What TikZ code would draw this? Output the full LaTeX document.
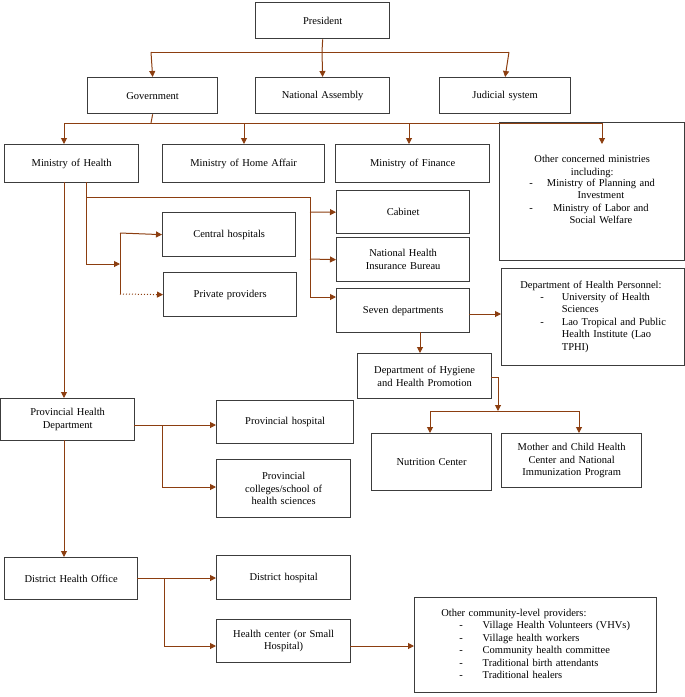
\documentclass[tikz,border=0pt]{standalone}
\usepackage{fontspec}
\setmainfont{Liberation Serif}
\usetikzlibrary{arrows.meta}
\definecolor{arr}{RGB}{140,62,16}
\definecolor{bx}{RGB}{60,60,60}
\begin{document}
\begin{tikzpicture}[x=1pt,y=-1pt,
 box/.style={draw=bx,line width=1.3pt,anchor=north west,inner sep=2pt,align=center,font=\fontsize{10.5}{12.5}\selectfont},
 ln/.style={draw=arr,line width=1pt},
 ar/.style={ln,-{Triangle[length=6pt,width=6pt]}}]
\useasboundingbox (0,0) rectangle (685,697);
\newcommand{\bx}[6]{\node[box,minimum width={#4-#2},minimum height={#5-#3},text width={#4-#2-8}] (#1) at (#2,#3) {#6};}
\bx{pres}{255}{2}{389}{38}{President}
\bx{gov}{87}{77}{217}{113}{Government}
\bx{na}{255}{77}{389}{113}{National Assembly}
\bx{jud}{439}{77}{570}{113}{Judicial system}
\bx{moh}{4}{144}{138}{182}{Ministry of Health}
\bx{mha}{162}{144}{324}{182}{Ministry of Home Affair}
\bx{mof}{335}{144}{489}{182}{Ministry of Finance}
\bx{oth}{499}{122}{684}{260}{Other concerned ministries\\including:\\[-1pt]
\begin{tabular}{@{}c@{\hspace{14pt}}c@{}}-&Ministry of Planning and\\&Investment\\-&Ministry of Labor and\\&Social Welfare\end{tabular}}
\bx{cab}{336}{190}{469}{233}{Cabinet}
\bx{nhib}{336}{237}{469}{281}{National Health\\Insurance Bureau}
\bx{sev}{336}{288}{469}{332}{Seven departments}
\bx{dhp}{501}{268}{684}{365}{\begin{tabular}{@{}l@{}}Department of Health Personnel:\\[-1pt]
\begin{tabular}{@{\hspace{20pt}}l@{\hspace{18pt}}l@{}}-&University of Health\\&Sciences\\-&Lao Tropical and Public\\&Health Institute (Lao\\&TPHI)\end{tabular}\end{tabular}}
\bx{hyg}{357}{353}{491}{398}{Department of Hygiene\\and Health Promotion}
\bx{nut}{371}{433}{491}{490}{Nutrition Center}
\bx{mch}{501}{433}{641}{487}{Mother and Child Health\\Center and National\\Immunization Program}
\bx{cen}{162}{212}{295}{256}{Central hospitals}
\bx{pri}{163}{272}{296}{316}{Private providers}
\bx{phd}{0}{398}{134}{440}{Provincial Health\\Department}
\bx{ph}{216}{400}{353}{443}{Provincial hospital}
\bx{pc}{216}{459}{350}{517}{Provincial\\colleges/school of\\health sciences}
\bx{dho}{4}{557}{137}{599}{District Health Office}
\bx{dh}{216}{555}{350}{599}{District hospital}
\bx{hc}{216}{619}{350}{662}{Health center (or Small\\Hospital)}
\bx{ocp}{414}{597}{656}{692}{\begin{tabular}{@{}l@{}}Other community-level providers:\\
\begin{tabular}{@{\hspace{18pt}}l@{\hspace{20pt}}l@{}}-&Village Health Volunteers (VHVs)\\-&Village health workers\\-&Community health committee\\-&Traditional birth attendants\\-&Traditional healers\end{tabular}\end{tabular}}
% president
\draw[ln] (pres.south) -- (322,52);
\draw[ln] (151,52) -- (509,52);
\draw[ar] (151,52) -- (gov.north);
\draw[ar] (322,52) -- (na.north);
\draw[ar] (509,52) -- (jud.north);
% government
\draw[ln] (gov.south) -- (151,123);
\draw[ln] (64,123) -- (602,123);
\draw[ar] (64,123) -- (64,144);
\draw[ar] (244,123) -- (244,144);
\draw[ar] (409,123) -- (409,144);
\draw[ar] (602,123) -- (602,144);
% MoH
\draw[ar] (64,182) -- (phd.north -| 64,0);
\draw[ln] (86,182) -- (86,264);
\draw[ar] (86,264) -- (120,264);
\draw[ln] (120,233) -- (120,294);
\draw[ar] (120,233) -- (cen.west);
\draw[ar,dotted] (120,294) -- (pri.west);
\draw[ln] (86,197) -- (310,197) -- (310,297);
\draw[ar] (310,212) -- (cab.west);
\draw[ar] (310,259) -- (nhib.west);
\draw[ar] (310,297) -- (336,297);
\draw[ar] (469,314) -- (501,314);
\draw[ar] (420,332) -- (420,353);
% hygiene
\draw[ln] (491,377) -- (498,377);
\draw[ar] (498,377) -- (498,411);
\draw[ln] (430,411) -- (579,411);
\draw[ar] (430,411) -- (430,433);
\draw[ar] (579,411) -- (579,433);
% provincial
\draw[ln] (134,425) -- (162,425);
\draw[ar] (162,425) -- (216,425);
\draw[ln] (162,425) -- (162,487);
\draw[ar] (162,487) -- (216,487);
\draw[ar] (64,440) -- (64,557);
% district
\draw[ar] (137,578) -- (216,578);
\draw[ln] (164,578) -- (164,646);
\draw[ar] (164,646) -- (216,646);
\draw[ar] (350,646) -- (414,646);
\end{tikzpicture}
\end{document}
